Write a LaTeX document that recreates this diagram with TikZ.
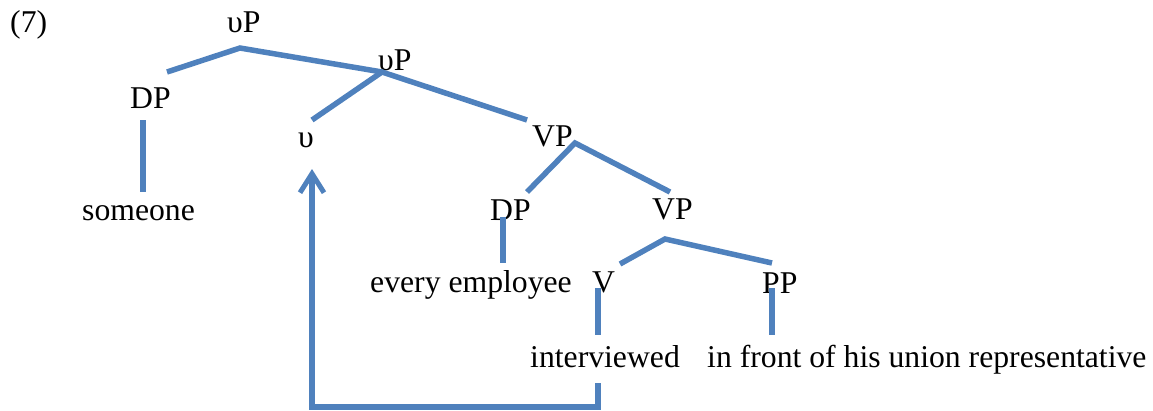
\documentclass[tikz,border=0pt]{standalone}
\usepackage{fontspec}
\setmainfont{Liberation Serif}
\usetikzlibrary{arrows.meta}
\definecolor{branch}{RGB}{79,129,189}
\begin{document}
\begin{tikzpicture}[x=1pt,y=-1pt,
  lbl/.style={anchor=base west,inner sep=0pt,font=\fontsize{31.7}{36}\selectfont},
  edge/.style={draw=branch,line width=5.5pt},
  move/.style={edge,-{Straight Barb[length=19pt,width=24pt,line width=5pt]}}]
\useasboundingbox (0,0) rectangle (1153,410);

% labels
\node[lbl] (ex)   at (10,32)   {(7)};
\node[lbl] (vP1)  at (227,32)  {υP};
\node[lbl] (vP2)  at (378,70)  {υP};
\node[lbl] (DP1)  at (130,108) {DP};
\node[lbl] (some) at (82,220)  {someone};
\node[lbl] (v)    at (298,147) {υ};
\node[lbl] (VP1)  at (532,146) {VP};
\node[lbl] (DP2)  at (490,220) {DP};
\node[lbl] (VP2)  at (652,219) {VP};
\node[lbl] (every) at (370,292) {every employee};
\node[lbl] (V)    at (592,292) {V};
\node[lbl] (PP)   at (762,293) {PP};
\node[lbl] (intv) at (530,367) {interviewed};
\node[lbl] (front) at (707,367) {in front of his union representative};

% branch points
\coordinate (a1) at (240,48);
\coordinate (a1l) at (167,72);
\coordinate (a2) at (382,72);
\coordinate (a2l) at (312,120);
\coordinate (a2r) at (527,120);
\coordinate (dp1t) at (143,120);
\coordinate (dp1b) at (143,192);
\coordinate (a3) at (575,143);
\coordinate (a3l) at (527,192);
\coordinate (a3r) at (670,192);
\coordinate (dp2t) at (503,217);
\coordinate (dp2b) at (503,263);
\coordinate (a4) at (665,239);
\coordinate (a4l) at (620,264);
\coordinate (a4r) at (772,263);
\coordinate (vt) at (598,288);
\coordinate (vb) at (598,335);
\coordinate (ppt) at (772,288);
\coordinate (ppb) at (772,335);

% tree branches
\draw[edge] (a1l) -- (a1) -- (a2) -- (a2r);
\draw[edge] (a2l) -- (a2);
\draw[edge] (dp1t) -- (dp1b);
\draw[edge] (a3l) -- (a3) -- (a3r);
\draw[edge] (dp2t) -- (dp2b);
\draw[edge] (a4l) -- (a4) -- (a4r);
\draw[edge] (vt) -- (vb);
\draw[edge] (ppt) -- (ppb);

% head movement of V to v
\coordinate (mvs) at (598,383);
\coordinate (mvc1) at (598,407);
\coordinate (mvc2) at (312,407);
\coordinate (mve) at (312,169);
\draw[move] (mvs) -- (mvc1) -- (mvc2) -- (mve);
\end{tikzpicture}
\end{document}
